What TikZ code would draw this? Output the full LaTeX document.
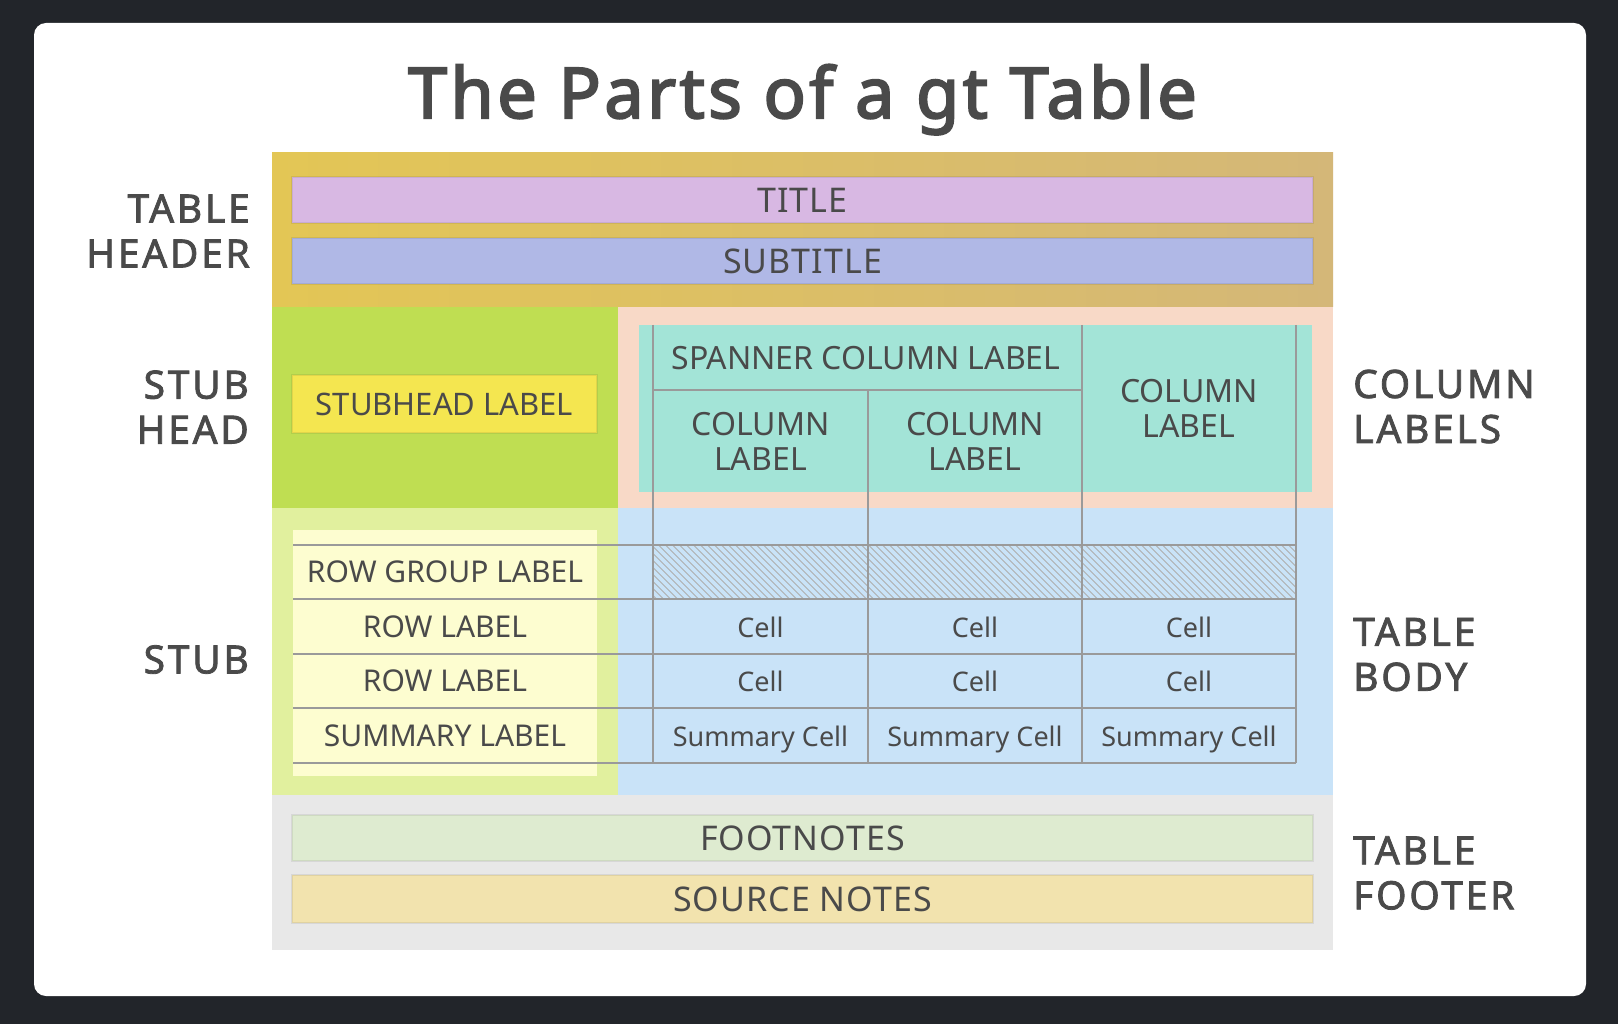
\documentclass[tikz,border=0pt]{standalone}
\usepackage{fontspec}
\setmainfont{Noto Sans}
\newfontfamily\trackedfont[LetterSpace=3]{Noto Sans}
\newfontfamily\heavyfont[LetterSpace=5, FakeBold=3]{Noto Sans}
\newfontfamily\partnamefont[LetterSpace=7, FakeBold=2]{Noto Sans}
\usepackage{tikz}
\usepackage{xcolor}
\definecolor{GtDark}{HTML}{22252A}
\definecolor{GtText}{HTML}{4A4A4A}
\definecolor{GtHeadLeft}{HTML}{E3C655}
\definecolor{GtHeadRight}{HTML}{D4B778}
\definecolor{GtTitle}{HTML}{D8B8E3}
\definecolor{GtSubtitle}{HTML}{B0B8E6}
\definecolor{GtStubHead}{HTML}{BFDE52}
\definecolor{GtStubLabel}{HTML}{F4E650}
\definecolor{GtColHead}{HTML}{F8D9C7}
\definecolor{GtColLabel}{HTML}{A3E4D7}
\definecolor{GtStub}{HTML}{E1F09E}
\definecolor{GtRowLabel}{HTML}{FDFDD0}
\definecolor{GtBody}{HTML}{C9E3F8}
\definecolor{GtFooter}{HTML}{E8E8E8}
\definecolor{GtFootnote}{HTML}{DEEBD0}
\definecolor{GtSource}{HTML}{F2E3AE}
\definecolor{GtGrid}{HTML}{9A9A9A}
\tikzset{
    % Base text style
    basetext/.style={
        text=GtText,
        inner sep=0pt,
        align=center
    },
    % Wide band in header and footer
    bandnode/.style={
        basetext,
        minimum width=1021pt,
        minimum height=46pt,
        draw=black,
        draw opacity=0.07,
        line width=1.5pt,
        font=\trackedfont\fontsize{34}{36}\selectfont
    },
    % Stubhead label box
    labelbox/.style={
        basetext,
        minimum width=305pt,
        minimum height=58pt,
        draw=black,
        draw opacity=0.07,
        line width=1.5pt,
        font=\fontsize{31}{35}\selectfont
    },
    % Label inside the grid
    labelnode/.style={
        basetext,
        font=\fontsize{30}{35}\selectfont
    },
    % Column label text
    colnode/.style={
        basetext,
        font=\fontsize{32}{35}\selectfont
    },
    % Body cell text
    cellnode/.style={
        basetext,
        text depth=0pt,
        font=\fontsize{27}{30}\selectfont
    },
    % Part names beside the table
    sidelabel/.style={
        basetext,
        font=\partnamefont\fontsize{39}{45}\selectfont
    },
    % Grid rules
    gridline/.style={
        draw=GtGrid,
        line width=2pt
    },
    % Hatching of the row group row
    hatchline/.style={
        draw=GtGrid!80,
        line width=0.8pt
    }
}

\begin{document}
\begin{tikzpicture}[x=1pt, y=-1pt]
        % Background and card
        \fill[GtDark] (0,0) rectangle (1618,1024);
        \fill[white, rounded corners=12pt] (34,23) rectangle (1586,996);

        % Title
        \node[basetext, anchor=base, font=\heavyfont\fontsize{70}{80}\selectfont] (maintitle) at (802.5,118) {The Parts of a gt Table};

        % Table regions
        \shade[left color=GtHeadLeft, right color=GtHeadRight] (272,153) rectangle (1333,307);
        \fill[GtStubHead] (272,307) rectangle (618,508);
        \fill[GtColHead] (618,307) rectangle (1333,508);
        \fill[GtStub] (272,508) rectangle (618,795);
        \fill[GtBody] (618,508) rectangle (1333,795);
        \fill[GtFooter] (272,795) rectangle (1333,950);
        \fill[GtColLabel] (639,325) rectangle (1312,492);
        \fill[GtRowLabel] (293,530) rectangle (597,776);

        % Hatched row group row
        \begin{scope}
            \clip (653,544.5) rectangle (1296,599);
            \foreach \h in {595,602,...,1300}
                \draw[hatchline] (\h,544.5) -- ++(54.5,54.5);
        \end{scope}

        % Grid
        \foreach \x in {653,1082,1296}
            \draw[gridline] (\x,325) -- (\x,763);
        \draw[gridline] (868,390) -- (868,763);
        \draw[gridline] (653,390) -- (1082,390);
        \foreach \y in {544.5,599,653.5,708,763}
            \draw[gridline] (293,\y) -- (1296,\y);

        % Header and footer bands
        \node[bandnode, fill=GtTitle] (title) at (802.5,200) {TITLE};
        \node[bandnode, fill=GtSubtitle] (subtitle) at (802.5,261) {SUBTITLE};
        \node[bandnode, fill=GtFootnote] (footnotes) at (802.5,838) {FOOTNOTES};
        \node[bandnode, fill=GtSource, minimum height=48pt] (sourcenotes) at (802.5,899) {SOURCE NOTES};

        % Stub head and column labels
        \node[labelbox, fill=GtStubLabel] (stubhead) at (444.5,404) {STUBHEAD LABEL};
        \node[colnode] (spanner) at (866,358) {SPANNER COLUMN LABEL};
        \node[colnode] (colA) at (760.5,441) {COLUMN\\LABEL};
        \node[colnode] (colB) at (975,441) {COLUMN\\LABEL};
        \node[colnode] (colC) at (1189,408) {COLUMN\\LABEL};

        % Stub
        \node[labelnode] (rowgroup) at (445,572) {ROW GROUP LABEL};
        \node[labelnode] (rowA) at (445,626.5) {ROW LABEL};
        \node[labelnode] (rowB) at (445,681) {ROW LABEL};
        \node[labelnode] (summary) at (445,735.5) {SUMMARY LABEL};

        % Body cells
        \foreach \cx/\cn in {760.5/A,975/B,1189/C} {
            \node[cellnode] (cell1\cn) at (\cx,627) {Cell};
            \node[cellnode] (cell2\cn) at (\cx,681.5) {Cell};
            \node[cellnode] (sum\cn) at (\cx,736) {Summary Cell};
        }

        % Part names
        \node[sidelabel, anchor=east, align=right] (lblheader) at (250,231) {TABLE\\HEADER};
        \node[sidelabel, anchor=east, align=right] (lblstubhead) at (249,407) {STUB\\HEAD};
        \node[sidelabel, anchor=east, align=right] (lblstub) at (249,659.5) {STUB};
        \node[sidelabel, anchor=west, align=left] (lblcolumns) at (1353,406.5) {COLUMN\\LABELS};
        \node[sidelabel, anchor=west, align=left] (lblbody) at (1353,654.5) {TABLE\\BODY};
        \node[sidelabel, anchor=west, align=left] (lblfooter) at (1353,873) {TABLE\\FOOTER};
    \end{tikzpicture}
\end{document}
